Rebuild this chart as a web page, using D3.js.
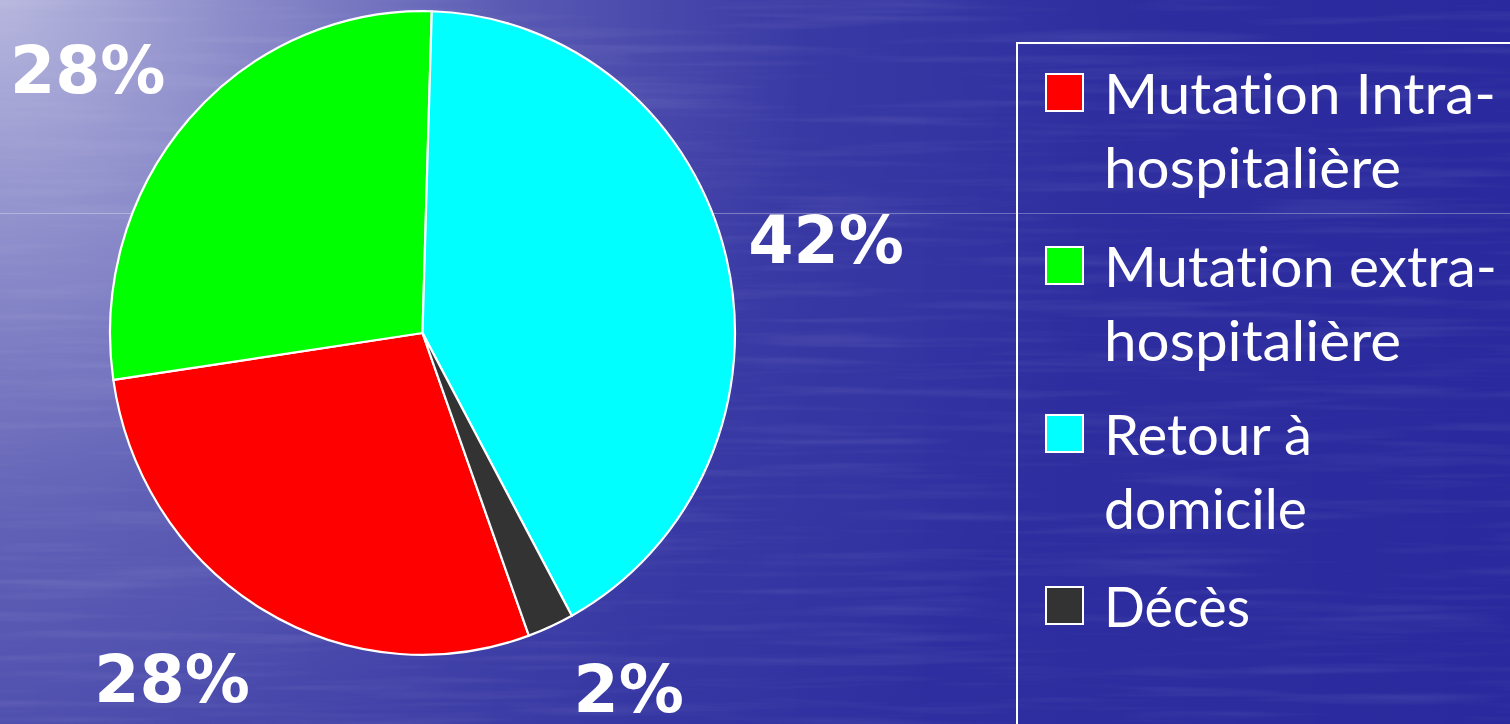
<!DOCTYPE html>
<html>
<head>
<meta charset="utf-8">
<script src="https://cdn.jsdelivr.net/npm/d3@7"></script>
<style>
html,body{margin:0;padding:0;overflow:hidden;background:#2a2a9e;}
svg{display:block;}
text{font-variant-ligatures:none;font-feature-settings:"liga" 0;}
</style>
</head>
<body>
<svg id="chart" width="1510" height="724"></svg>
<script>
// ---- data ----
const categories = ["Mutation Intra-hospitalière", "Mutation extra-hospitalière", "Retour à domicile", "Décès"];
const legendLines = [["Mutation Intra-", "hospitalière"], ["Mutation extra-", "hospitalière"], ["Retour à", "domicile"], ["Décès"]];
const values = [28.2, 27.8, 41.6, 2.4];
const valueLabels = ["28%", "28%", "42%", "2%"];
const colors = ["#ff0000", "#00ff00", "#00ffff", "#333333"];
const labelNudge = [[-35, -15], [-21, 16], [-5, 4], [34, -27]];

// ---- layout ----
const W = 1510, H = 724;
const cx = 422.5, cy = 333, R = 312.5, yStretch = 1.03;
const startDeg = 160.1;

const svg = d3.select("#chart");
const defs = svg.append("defs");

const rg = defs.append("radialGradient").attr("id", "glow")
  .attr("gradientUnits", "userSpaceOnUse").attr("cx", 0).attr("cy", 0).attr("r", 1150);
[[0, 0.62], [0.2, 0.42], [0.45, 0.18], [0.7, 0.05], [1, 0]].forEach(([o, a]) =>
  rg.append("stop").attr("offset", o).attr("stop-color", "#ffffff").attr("stop-opacity", a));

const lg = defs.append("linearGradient").attr("id", "leftlight").attr("x1", 0).attr("x2", 1).attr("y1", 0).attr("y2", 0);
[[0, 0.1], [0.45, 0.03], [1, 0]].forEach(([o, a]) =>
  lg.append("stop").attr("offset", o).attr("stop-color", "#ffffff").attr("stop-opacity", a));

const f = defs.append("filter").attr("id", "water").attr("x", 0).attr("y", 0).attr("width", 1).attr("height", 1);
f.append("feTurbulence").attr("type", "fractalNoise").attr("baseFrequency", "0.004 0.09").attr("numOctaves", 3).attr("seed", 4).attr("result", "n");
f.append("feColorMatrix").attr("in", "n").attr("type", "matrix")
  .attr("values", "0 0 0 0 1  0 0 0 0 1  0 0 0 0 1  1.6 0 0 0 -0.75");

// background
svg.append("rect").attr("width", W).attr("height", H).attr("fill", "#2a2a9e");
svg.append("rect").attr("width", W).attr("height", H).attr("fill", "url(#leftlight)");
svg.append("rect").attr("width", W).attr("height", H).attr("fill", "url(#glow)");
svg.append("rect").attr("width", W).attr("height", H).attr("filter", "url(#water)").attr("opacity", 0.11);
svg.append("line").attr("x1", 0).attr("x2", W).attr("y1", 213.5).attr("y2", 213.5)
  .attr("stroke", "#ffffff").attr("stroke-opacity", 0.3).attr("stroke-width", 1);

// pie
const toRad = d => d * Math.PI / 180;
const pie = d3.pie().sort(null).value(d => d)
  .startAngle(toRad(startDeg)).endAngle(toRad(startDeg + 360));
const arcs = pie(values);
const arc = d3.arc().innerRadius(0).outerRadius(R);

const g = svg.append("g").attr("transform", `translate(${cx},${cy}) scale(1,${yStretch})`);
g.selectAll("path").data(arcs).join("path")
  .attr("d", arc)
  .attr("fill", (d, i) => colors[i])
  .attr("stroke", "#ffffff")
  .attr("stroke-width", 2.2)
  .attr("vector-effect", "non-scaling-stroke")
  .attr("stroke-linejoin", "round");

// value labels
const labelArc = d3.arc().innerRadius(420).outerRadius(420);
svg.append("g").selectAll("text").data(arcs).join("text")
  .attr("x", (d, i) => cx + labelArc.centroid(d)[0] + labelNudge[i][0])
  .attr("y", (d, i) => cy + labelArc.centroid(d)[1] + labelNudge[i][1])
  .attr("dy", "0.36em")
  .attr("text-anchor", "middle")
  .attr("font-family", "'DejaVu Sans', Verdana, sans-serif")
  .attr("font-weight", "bold")
  .attr("font-size", 65)
  .attr("fill", "#ffffff")
  .text((d, i) => valueLabels[i]);

// legend
svg.append("rect").attr("x", 1017).attr("y", 43).attr("width", 600).attr("height", 800)
  .attr("fill", "none").attr("stroke", "#ffffff").attr("stroke-width", 2);

const lineH = 73.5;
const itemStart = [114, 287, 455, 627];
const leg = svg.append("g");
const items = leg.selectAll("g").data(categories).join("g")
  .attr("transform", (d, i) => `translate(1046,${itemStart[i]})`);
items.append("rect").attr("x", 0).attr("y", -40).attr("width", 37).attr("height", 37)
  .attr("fill", (d, i) => colors[i]).attr("stroke", "#ffffff").attr("stroke-width", 2);
const lineWidths = [[392, 297], [393, 297], [208, 203], [146]];
items.each(function (d, i) {
  const t = d3.select(this);
  legendLines[i].forEach((ln, j) => {
    t.append("text")
      .attr("x", 58).attr("y", j * lineH)
      .attr("font-family", "'Comic Sans MS', Lato, 'Open Sans', sans-serif")
      .attr("font-size", 56)
      .attr("fill", "#ffffff")
      .attr("textLength", lineWidths[i][j])
      .attr("lengthAdjust", "spacingAndGlyphs")
      .text(ln);
  });
});
</script>
</body>
</html>
